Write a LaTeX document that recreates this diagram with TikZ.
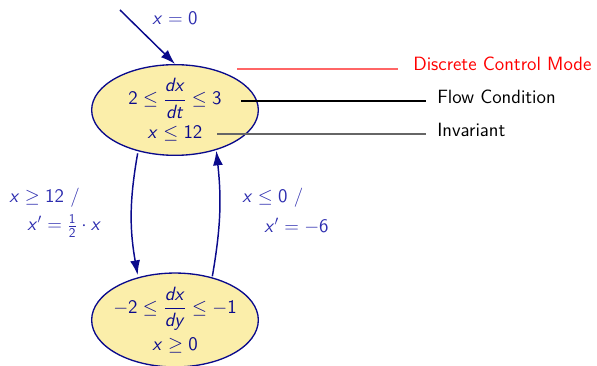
\documentclass[tikz,border=0pt]{standalone}
\usepackage{amsmath}
\DeclareSymbolFont{operators}{OT1}{cmss}{m}{n}
\DeclareSymbolFont{sfslant}{OT1}{cmss}{m}{sl}
\DeclareMathSymbol{x}{\mathalpha}{sfslant}{`x}
\DeclareMathSymbol{d}{\mathalpha}{sfslant}{`d}
\DeclareMathSymbol{t}{\mathalpha}{sfslant}{`t}
\DeclareMathSymbol{y}{\mathalpha}{sfslant}{`y}
\newcommand{\mline}[1]{\makebox[60pt][c]{$#1$}}
\usetikzlibrary{arrows.meta,shapes.geometric}
\definecolor{navy}{RGB}{10,10,140}
\definecolor{lbl}{RGB}{45,45,175}
\definecolor{fillY}{RGB}{251,238,170}
\tikzset{
  mode/.style={ellipse,draw=navy,line width=1pt,fill=fillY,text=navy,minimum width=125pt,minimum height=68pt,inner sep=0pt,align=center,font=\fontsize{14.8}{17}\selectfont\sffamily},
  trans/.style={draw=navy,line width=1.1pt,-{Latex[length=11pt,width=7.5pt]}},
  elabel/.style={text=lbl,font=\fontsize{14.4}{17}\selectfont\sffamily,inner sep=0pt},
  annot/.style={font=\fontsize{14.4}{17}\selectfont\sffamily,anchor=west,inner sep=0pt}
}
\begin{document}
\begin{tikzpicture}[x=0.75pt,y=-0.75pt]
\useasboundingbox (0,0) rectangle (597,366);
\node[mode] (top) at (175,110) {\mline{2\le\dfrac{dx}{dt}\le 3}\\[5pt]\mline{x\le 12}};
\node[mode] (bot) at (175,320) {\mline{-2\le\dfrac{dx}{dy}\le -1}\\[5pt]\mline{x\ge 0}};
\coordinate (init) at (120,10);
\draw[trans] (init) -- (top.north);
\node[elabel] (l0) at (175,18) {$x=0$};
\draw[trans] ([xshift=-28pt,yshift=2pt]top.south) to[bend right=10] ([xshift=-28pt,yshift=-2pt]bot.north);
\draw[trans] ([xshift=28pt,yshift=-3pt]bot.north) to[bend right=8] ([xshift=31pt,yshift=4pt]top.south);
\node[elabel,anchor=west] (l1) at (9,198) {$x\ge 12$ /};
\node[elabel,anchor=west] (l2) at (27,226) {$x'=\frac{1}{2}\cdot x$};
\node[elabel,anchor=west] (l3) at (242,198) {$x\le 0$ /};
\node[elabel,anchor=west] (l4) at (264,226) {$x'=-6$};
\node[annot,text=red] (dcm) at (413,64) {Discrete Control Mode};
\node[annot] (fc) at (437,97) {Flow Condition};
\node[annot] (inv) at (437,130) {Invariant};
\coordinate (a1) at (237,69);
\coordinate (a1e) at (398,69);
\coordinate (a2) at (241,101);
\coordinate (a2e) at (426,101);
\coordinate (a3) at (217,134);
\coordinate (a3e) at (426,134);
\draw[red!60,line width=0.9pt] (a1) -- (a1e);
\draw[black,line width=0.8pt] (a2) -- (a2e);
\draw[black!60,line width=0.9pt] (a3) -- (a3e);
\end{tikzpicture}
\end{document}
